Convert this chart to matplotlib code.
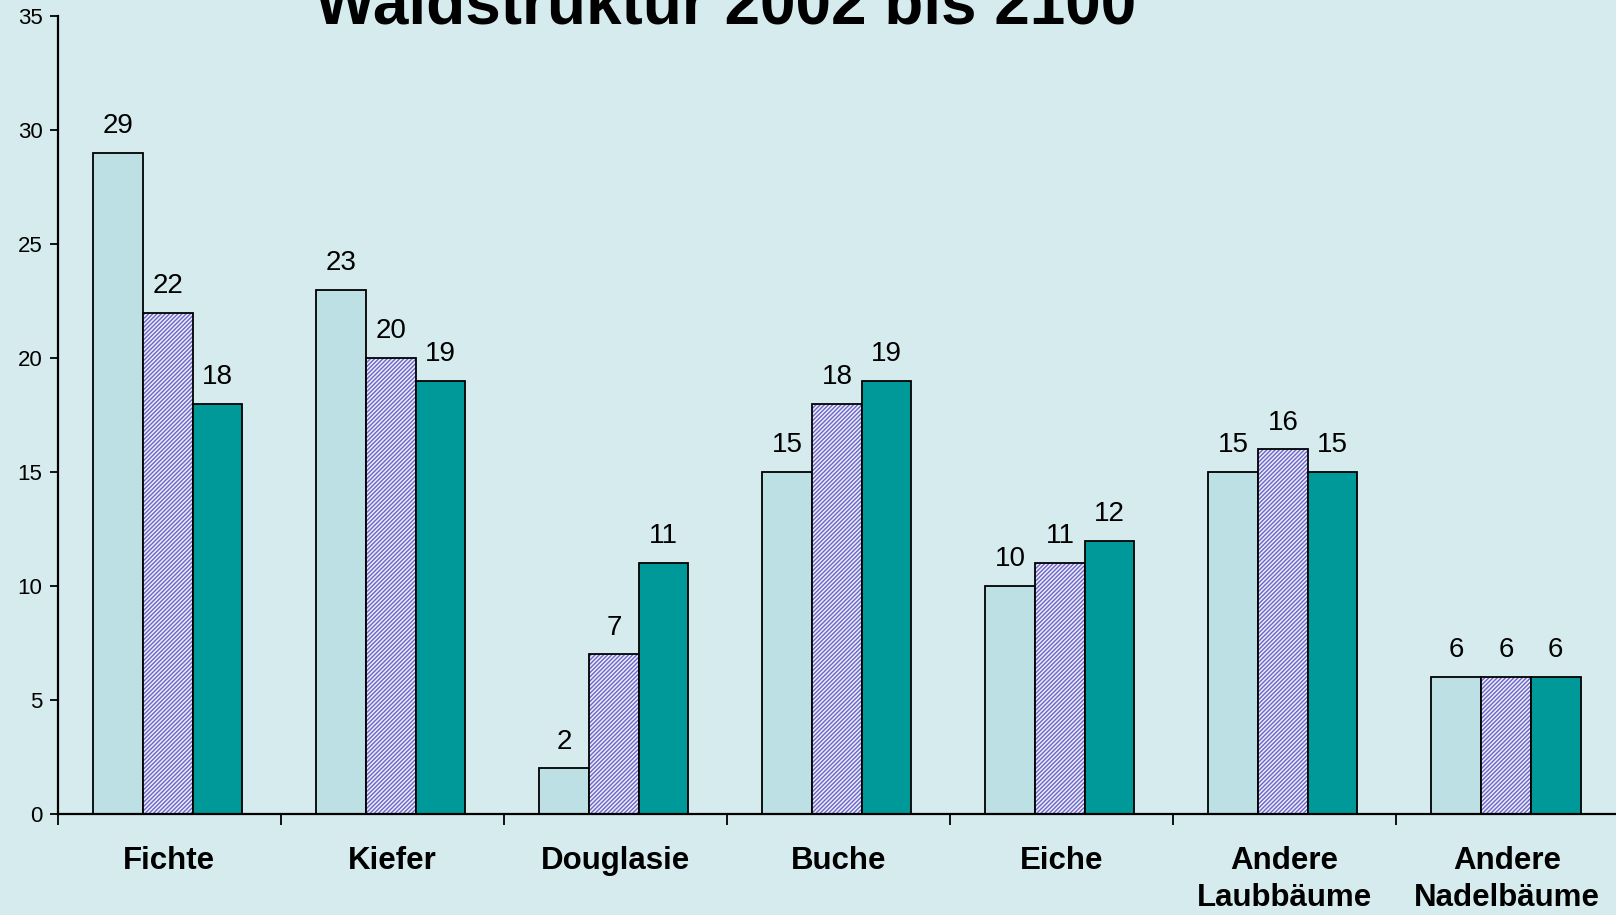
import matplotlib.pyplot as plt
import numpy as np

categories = ["Fichte", "Kiefer", "Douglasie", "Buche", "Eiche",
              "Andere\nLaubbäume", "Andere\nNadelbäume"]
werte_2002 = [29, 23, 2, 15, 10, 15, 6]
werte_mitte = [22, 20, 7, 18, 11, 16, 6]
werte_2100 = [18, 19, 11, 19, 12, 15, 6]

bg = "#d6ebee"
plt.rcParams['font.family'] = ['Liberation Sans', 'DejaVu Sans']

fig = plt.figure(figsize=(16.16, 9.15), dpi=100, facecolor=bg)
ax = fig.add_axes([0.0357, 0.1104, 0.966, 0.8716], facecolor=bg)

x = np.arange(len(categories))
w = 0.223

b1 = ax.bar(x - w - 0.006, werte_2002, w, color="#bce0e3", edgecolor="black", lw=1.3)
# hatched middle series: hatch drawn first, then black outline on top
ax.bar(x - 0.006, werte_mitte, w, color="#ececfa", edgecolor="#6a66c8", hatch="////////", lw=0)
b2 = ax.bar(x - 0.006, werte_mitte, w, color="none", edgecolor="black", lw=1.3)
b3 = ax.bar(x + w - 0.006, werte_2100, w, color="#009999", edgecolor="black", lw=1.3)

for bars in (b1, b2, b3):
    ax.bar_label(bars, padding=10, fontsize=20)

ax.set_xlim(-0.5, len(categories) - 0.5)
ax.set_ylim(0, 35)
ax.set_yticks(range(0, 36, 5))
ax.tick_params(axis='y', labelsize=16, length=6, width=1.3, pad=5)

ax.set_xticks(x)
ax.set_xticklabels(categories, fontsize=22.5, fontweight='bold', linespacing=1.32)
ax.tick_params(axis='x', which='major', length=0, pad=23)
ax.set_xticks(np.arange(-0.5, len(categories)), minor=True)
ax.tick_params(axis='x', which='minor', length=8, width=1.3)

for s in ("top", "right"):
    ax.spines[s].set_visible(False)
for s in ("left", "bottom"):
    ax.spines[s].set_linewidth(1.6)

fig.text(0.449, 1 - 23 / 915, "Waldstruktur 2002 bis 2100", ha='center',
         va='baseline', fontsize=46, fontweight='bold')

fig.savefig("out.png", dpi=100, facecolor=bg)
